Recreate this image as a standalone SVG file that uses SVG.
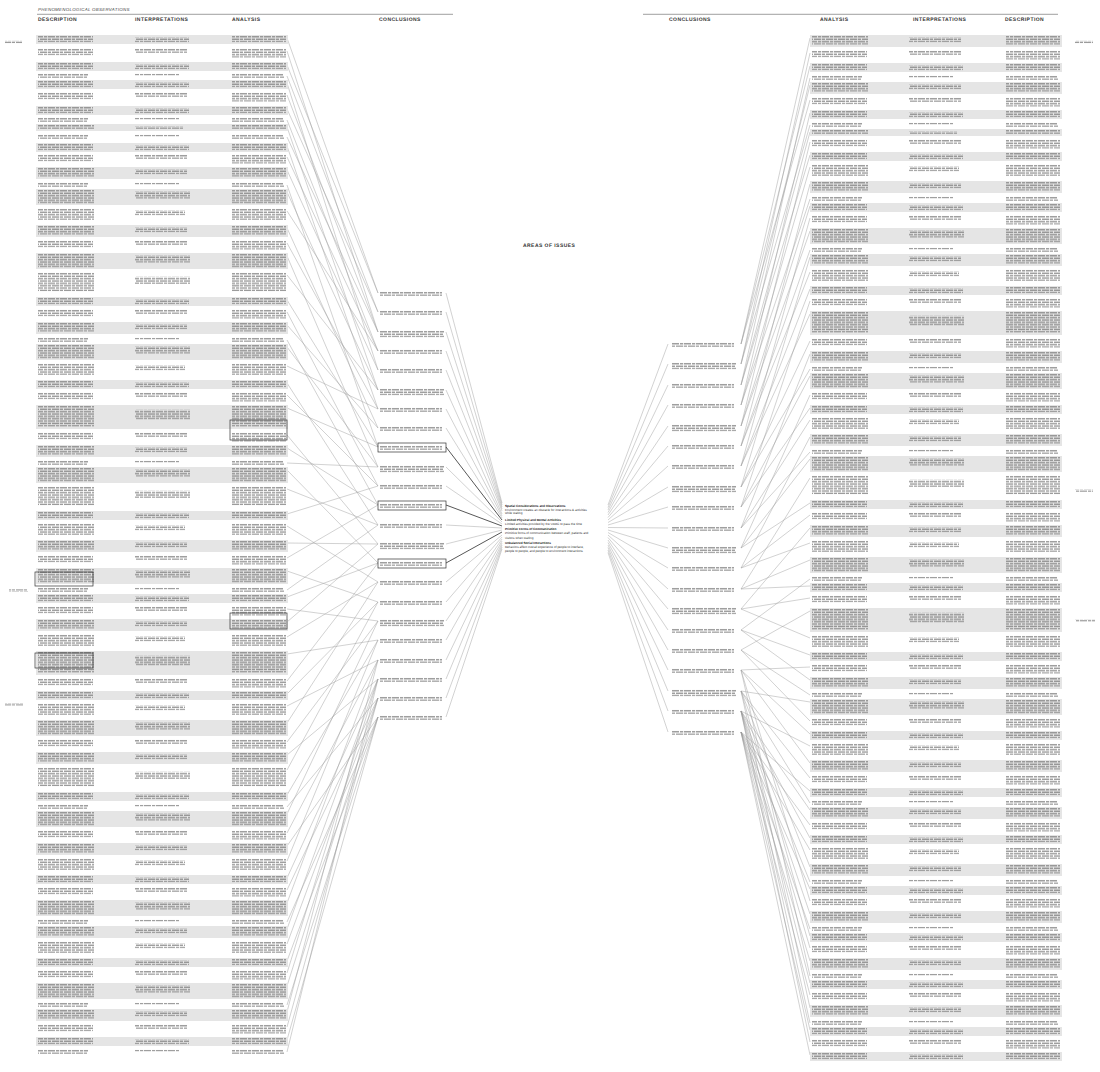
<svg xmlns="http://www.w3.org/2000/svg" xmlns:xlink="http://www.w3.org/1999/xlink" width="1100" height="1072" viewBox="0 0 1100 1072">
<style>
.b{fill:#e5e5e5}
.t{fill:url(#tp)}
.h{font-family:"Liberation Sans",Arial,sans-serif;font-weight:bold;font-size:5px;letter-spacing:0.45px;fill:#333;text-rendering:geometricPrecision}
.ph{font-family:"Liberation Sans",Arial,sans-serif;font-style:italic;font-size:4.4px;letter-spacing:0.3px;fill:#444;text-rendering:geometricPrecision}
.rule{stroke:#888;stroke-width:0.8}
.ct{font-family:"Liberation Sans",Arial,sans-serif;font-size:3.1px;fill:#333;text-rendering:geometricPrecision}
.cb{font-weight:bold;fill:#111}
.cn{fill:none;stroke:#9a9a9a;stroke-width:0.45}
.cd{fill:none;stroke:#444;stroke-width:0.9}
.bx{fill:none;stroke:#333;stroke-width:0.7}
</style>
<defs>
<pattern id="tp" width="12" height="4.8" patternUnits="userSpaceOnUse">
<rect x="0" y="1.2" width="7" height="1.1" fill="#7c7c7c"/><rect x="8" y="1.2" width="3.2" height="1.1" fill="#7c7c7c"/>
<rect x="0" y="3.6" width="3" height="1.1" fill="#7c7c7c"/><rect x="4" y="3.6" width="7.2" height="1.1" fill="#7c7c7c"/>
</pattern>
<g id="g7"><rect class="b" width="252" height="7"/><rect class="t" x="2" width="56" height="4.8"/><rect class="t" x="99" y="2.4" width="48" height="2.4"/><rect class="t" x="196" width="54" height="4.8"/></g>
<g id="g9"><rect class="b" width="252" height="9"/><rect class="t" x="2" width="55" height="7.2"/><rect class="t" x="99" y="2.4" width="54" height="4.8"/><rect class="t" x="196" width="54" height="7.2"/></g>
<g id="g12"><rect class="b" width="252" height="12"/><rect class="t" x="2" width="56" height="9.6"/><rect class="t" x="99" y="2.4" width="52" height="4.8"/><rect class="t" x="196" width="54" height="9.6"/></g>
<g id="g16"><rect class="b" width="252" height="16"/><rect class="t" x="2" width="56" height="14.4"/><rect class="t" x="99" y="2.4" width="55" height="7.2"/><rect class="t" x="196" width="54" height="14.4"/></g>
<g id="g24"><rect class="b" width="252" height="24"/><rect class="t" x="2" width="56" height="21.6"/><rect class="t" x="99" y="4.8" width="55" height="9.6"/><rect class="t" x="196" width="54" height="21.6"/></g>
<g id="w5"><rect class="t" x="2" width="50" height="4.8"/><rect class="t" x="99" width="44" height="2.4"/><rect class="t" x="196" width="52" height="4.8"/></g>
<g id="w10"><rect class="t" x="2" width="55" height="7.2"/><rect class="t" x="99" width="52" height="4.8"/><rect class="t" x="196" width="54" height="9.6"/></g>
<g id="w14"><rect class="t" x="2" width="56" height="12"/><rect class="t" x="99" y="2.4" width="50" height="4.8"/><rect class="t" x="196" width="54" height="12"/></g>
<g id="w22"><rect class="t" x="2" width="56" height="19.2"/><rect class="t" x="99" y="4.8" width="55" height="7.2"/><rect class="t" x="196" width="54" height="19.2"/></g>
<g id="c2"><rect class="t" width="62" height="4.8"/></g>
<g id="c3"><rect class="t" width="64" height="7.2"/></g>
</defs>
<rect width="1100" height="1072" fill="#fff"/>

<g id="header-left">
<text class="ph" x="38" y="11">PHENOMENOLOGICAL OBSERVATIONS</text>
<line class="rule" x1="37" y1="14.3" x2="453" y2="14.3"/>
<text class="h" x="38" y="21">DESCRIPTION</text>
<text class="h" x="135" y="21">INTERPRETATIONS</text>
<text class="h" x="232" y="21">ANALYSIS</text>
<text class="h" x="379" y="21">CONCLUSIONS</text>
</g>
<g id="header-right">
<line class="rule" x1="643" y1="14.3" x2="1058" y2="14.3"/>
<text class="h" x="669" y="21">CONCLUSIONS</text>
<text class="h" x="820" y="21">ANALYSIS</text>
<text class="h" x="913" y="21">INTERPRETATIONS</text>
<text class="h" x="1005" y="21">DESCRIPTION</text>
</g>

<g id="connectors">
<path class="cn" d="M287 38L378 293M287 51L378 332M287 65L378 293M287 76L378 312M287 83L378 370M287 95L378 332M287 109L378 312M287 120L378 351M287 127L378 390M287 137L378 332M287 146L378 409M287 157L378 351M287 170L378 370M287 185L378 447M287 192L378 390M287 211L378 351M287 228L378 428M287 243L378 409M287 256L378 467M287 275L378 390M287 300L378 447M287 312L378 486M287 325L378 428M287 340L378 505M287 347L378 467M287 366L378 409M287 383L378 525M287 395L378 486M287 408L378 447M287 435L378 544M287 448L378 505M287 463L378 467M287 470L378 563M287 489L378 525M287 514L378 486M287 526L378 582M287 543L378 544M287 558L378 505M287 571L378 602M287 590L378 525M287 597L378 563M287 609L378 621M287 622L378 544M287 637L378 582M287 654L378 640M287 681L378 563M287 694L378 602M287 706L378 660M287 723L378 582M287 742L378 621M287 755L378 679M287 770L378 602M287 795L378 640M287 807L378 698M287 814L378 621M287 833L378 660M287 846L378 717M287 861L378 640M287 878L378 679M287 890L378 698M287 903L378 660M287 922L378 717M287 929L378 679M287 944L378 698M287 961L378 717M287 973L378 679M287 986L378 698M287 1005L378 717M287 1012L378 660M287 1027L378 698M287 1040L378 717M287 1052L378 679"/>
<path class="cn" d="M446 293L502 503M446 312L502 505M446 332L502 507M446 351L502 509M446 370L502 511M446 390L502 514M446 409L502 516M446 428L502 518M446 467L502 522M446 486L502 524M446 525L502 528M446 544L502 530M446 582L502 535M446 602L502 537M446 621L502 539M446 640L502 541M446 660L502 543M446 679L502 545M446 698L502 547M446 717L502 549"/>
<path class="cd" d="M446 447L502 520M446 505L502 526M446 563L502 532"/>
<path class="cn" d="M810 38L741 344M810 53L741 364M810 66L741 344M810 78L741 385M810 85L741 364M810 100L741 344M810 113L741 405M810 125L741 364M810 132L741 385M810 142L741 426M810 155L741 385M810 167L741 405M810 184L741 446M810 199L741 405M810 206L741 426M810 218L741 466M810 231L741 426M810 250L741 446M810 257L741 487M810 272L741 446M810 289L741 466M810 301L741 507M810 314L741 466M810 341L741 487M810 354L741 528M810 369L741 487M810 376L741 507M810 395L741 548M810 408L741 507M810 420L741 528M810 437L741 568M810 452L741 528M810 459L741 548M810 478L741 589M810 503L741 548M810 515L741 568M810 528L741 609M810 543L741 568M810 560L741 589M810 579L741 630M810 586L741 589M810 598L741 609M810 611L741 650M810 638L741 609M810 655L741 630M810 667L741 670M810 680L741 630M810 695L741 650M810 702L741 691M810 721L741 650M810 734L741 670M810 746L741 711M810 763L741 670M810 778L741 691M810 791L741 732M810 803L741 691M810 810L741 711M810 825L741 732M810 838L741 711M810 850L741 732M810 867L741 691M810 882L741 711M810 889L741 732M810 901L741 670M810 914L741 711M810 929L741 732M810 936L741 691M810 948L741 711M810 961L741 732M810 976L741 670M810 983L741 711M810 995L741 732M810 1008L741 691M810 1023L741 711M810 1030L741 732M810 1042L741 711M810 1055L741 732"/>
<path class="cn" d="M668 344L608 505M668 364L608 507.5M668 385L608 510M668 405L608 512.5M668 426L608 515M668 446L608 517.5M668 466L608 520M668 487L608 522.5M668 507L608 525M668 528L608 527.5M668 548L608 530M668 568L608 532.5M668 589L608 535M668 609L608 537.5M668 630L608 540M668 650L608 542.5M668 670L608 545M668 691L608 547.5M668 711L608 550M668 732L608 552.5"/>
</g>

<g id="left-rows">
<use href="#g9" x="36" y="35"/><use href="#w10" x="36" y="48"/><use href="#g9" x="36" y="62"/><use href="#w5" x="36" y="73"/><use href="#g9" x="36" y="80"/><use href="#w10" x="36" y="92"/><use href="#g9" x="36" y="106"/><use href="#w5" x="36" y="117"/><use href="#g7" x="36" y="124"/><use href="#w5" x="36" y="134"/><use href="#g9" x="36" y="143"/><use href="#w10" x="36" y="154"/><use href="#g12" x="36" y="167"/><use href="#w5" x="36" y="182"/><use href="#g16" x="36" y="189"/><use href="#w14" x="36" y="208"/><use href="#g12" x="36" y="225"/><use href="#w10" x="36" y="240"/><use href="#g16" x="36" y="253"/><use href="#w22" x="36" y="272"/><use href="#g9" x="36" y="297"/><use href="#w10" x="36" y="309"/><use href="#g12" x="36" y="322"/><use href="#w5" x="36" y="337"/><use href="#g16" x="36" y="344"/><use href="#w14" x="36" y="363"/><use href="#g9" x="36" y="380"/><use href="#w10" x="36" y="392"/><use href="#g24" x="36" y="405"/><use href="#w10" x="36" y="432"/><use href="#g12" x="36" y="445"/><use href="#w5" x="36" y="460"/><use href="#g16" x="36" y="467"/><use href="#w22" x="36" y="486"/><use href="#g9" x="36" y="511"/><use href="#w14" x="36" y="523"/><use href="#g12" x="36" y="540"/><use href="#w10" x="36" y="555"/><use href="#g16" x="36" y="568"/><use href="#w5" x="36" y="587"/><use href="#g9" x="36" y="594"/><use href="#w10" x="36" y="606"/><use href="#g12" x="36" y="619"/><use href="#w14" x="36" y="634"/><use href="#g24" x="36" y="651"/><use href="#w10" x="36" y="678"/><use href="#g9" x="36" y="691"/><use href="#w14" x="36" y="703"/><use href="#g16" x="36" y="720"/><use href="#w10" x="36" y="739"/><use href="#g12" x="36" y="752"/><use href="#w22" x="36" y="767"/><use href="#g9" x="36" y="792"/><use href="#w5" x="36" y="804"/><use href="#g16" x="36" y="811"/><use href="#w10" x="36" y="830"/><use href="#g12" x="36" y="843"/><use href="#w14" x="36" y="858"/><use href="#g9" x="36" y="875"/><use href="#w10" x="36" y="887"/><use href="#g16" x="36" y="900"/><use href="#w5" x="36" y="919"/><use href="#g12" x="36" y="926"/><use href="#w14" x="36" y="941"/><use href="#g9" x="36" y="958"/><use href="#w10" x="36" y="970"/><use href="#g16" x="36" y="983"/><use href="#w5" x="36" y="1002"/><use href="#g12" x="36" y="1009"/><use href="#w10" x="36" y="1024"/><use href="#g9" x="36" y="1037"/><use href="#w5" x="36" y="1049"/>
<rect class="bx" x="35" y="572" width="58" height="14"/><rect class="bx" x="35" y="653" width="58" height="15"/><rect class="bx" x="230" y="420" width="57" height="20"/><rect class="bx" x="230" y="613" width="57" height="16"/>
</g>

<g id="right-rows">
<use href="#g12" x="810" y="35"/><use href="#w10" x="810" y="50"/><use href="#g9" x="810" y="63"/><use href="#w5" x="810" y="75"/><use href="#g12" x="810" y="82"/><use href="#w10" x="810" y="97"/><use href="#g9" x="810" y="110"/><use href="#w5" x="810" y="122"/><use href="#g7" x="810" y="129"/><use href="#w10" x="810" y="139"/><use href="#g9" x="810" y="152"/><use href="#w14" x="810" y="164"/><use href="#g12" x="810" y="181"/><use href="#w5" x="810" y="196"/><use href="#g9" x="810" y="203"/><use href="#w10" x="810" y="215"/><use href="#g16" x="810" y="228"/><use href="#w5" x="810" y="247"/><use href="#g12" x="810" y="254"/><use href="#w14" x="810" y="269"/><use href="#g9" x="810" y="286"/><use href="#w10" x="810" y="298"/><use href="#g24" x="810" y="311"/><use href="#w10" x="810" y="338"/><use href="#g12" x="810" y="351"/><use href="#w5" x="810" y="366"/><use href="#g16" x="810" y="373"/><use href="#w10" x="810" y="392"/><use href="#g9" x="810" y="405"/><use href="#w14" x="810" y="417"/><use href="#g12" x="810" y="434"/><use href="#w5" x="810" y="449"/><use href="#g16" x="810" y="456"/><use href="#w22" x="810" y="475"/><use href="#g9" x="810" y="500"/><use href="#w10" x="810" y="512"/><use href="#g12" x="810" y="525"/><use href="#w14" x="810" y="540"/><use href="#g16" x="810" y="557"/><use href="#w5" x="810" y="576"/><use href="#g9" x="810" y="583"/><use href="#w10" x="810" y="595"/><use href="#g24" x="810" y="608"/><use href="#w14" x="810" y="635"/><use href="#g9" x="810" y="652"/><use href="#w10" x="810" y="664"/><use href="#g12" x="810" y="677"/><use href="#w5" x="810" y="692"/><use href="#g16" x="810" y="699"/><use href="#w10" x="810" y="718"/><use href="#g9" x="810" y="731"/><use href="#w14" x="810" y="743"/><use href="#g12" x="810" y="760"/><use href="#w10" x="810" y="775"/><use href="#g9" x="810" y="788"/><use href="#w5" x="810" y="800"/><use href="#g12" x="810" y="807"/><use href="#w10" x="810" y="822"/><use href="#g9" x="810" y="835"/><use href="#w14" x="810" y="847"/><use href="#g12" x="810" y="864"/><use href="#w5" x="810" y="879"/><use href="#g9" x="810" y="886"/><use href="#w10" x="810" y="898"/><use href="#g12" x="810" y="911"/><use href="#w5" x="810" y="926"/><use href="#g9" x="810" y="933"/><use href="#w10" x="810" y="945"/><use href="#g12" x="810" y="958"/><use href="#w5" x="810" y="973"/><use href="#g9" x="810" y="980"/><use href="#w10" x="810" y="992"/><use href="#g12" x="810" y="1005"/><use href="#w5" x="810" y="1020"/><use href="#g9" x="810" y="1027"/><use href="#w10" x="810" y="1039"/><use href="#g9" x="810" y="1052"/>
</g>

<g id="side-labels">
<rect class="t" x="5" y="40.8" width="17" height="2.4"/><rect class="t" x="9" y="589.2" width="19" height="2.4"/><rect class="t" x="5" y="703.2" width="18" height="2.4"/>
<rect class="t" x="1075" y="40.8" width="18" height="2.4"/><rect class="t" x="1075" y="489.6" width="18" height="2.4"/><rect class="t" x="1075" y="619.2" width="20" height="2.4"/>
</g>

<g id="left-conclusions">
<use href="#c2" x="380" y="291"/><use href="#c2" x="380" y="310"/><use href="#c3" x="380" y="330"/><use href="#c2" x="380" y="349"/><use href="#c2" x="380" y="368"/><use href="#c3" x="380" y="388"/><use href="#c2" x="380" y="407"/><use href="#c2" x="380" y="426"/><use href="#c2" x="380" y="445"/><use href="#c3" x="380" y="465"/><use href="#c2" x="380" y="484"/><use href="#c2" x="380" y="503"/><use href="#c2" x="380" y="523"/><use href="#c3" x="380" y="542"/><use href="#c2" x="380" y="561"/><use href="#c2" x="380" y="580"/><use href="#c2" x="380" y="600"/><use href="#c3" x="380" y="619"/><use href="#c2" x="380" y="638"/><use href="#c2" x="380" y="658"/><use href="#c2" x="380" y="677"/><use href="#c2" x="380" y="696"/><use href="#c2" x="380" y="715"/>
<rect class="bx" x="378" y="443" width="68" height="9"/><rect class="bx" x="378" y="501" width="68" height="9"/><rect class="bx" x="378" y="559" width="68" height="9"/>
</g>

<g id="right-conclusions">
<use href="#c2" x="672" y="342"/><use href="#c3" x="672" y="362"/><use href="#c2" x="672" y="383"/><use href="#c2" x="672" y="403"/><use href="#c3" x="672" y="424"/><use href="#c2" x="672" y="444"/><use href="#c2" x="672" y="464"/><use href="#c3" x="672" y="485"/><use href="#c2" x="672" y="505"/><use href="#c2" x="672" y="526"/><use href="#c3" x="672" y="546"/><use href="#c2" x="672" y="566"/><use href="#c2" x="672" y="587"/><use href="#c3" x="672" y="607"/><use href="#c2" x="672" y="628"/><use href="#c2" x="672" y="648"/><use href="#c2" x="672" y="668"/><use href="#c3" x="672" y="689"/><use href="#c2" x="672" y="709"/><use href="#c2" x="672" y="730"/>
</g>

<g id="areas-of-issues">
<text class="h" x="523" y="247">AREAS OF ISSUES</text>
<text class="ct"><tspan class="cb" x="505" y="507">Spatial Considerations and Observations</tspan><tspan x="505" y="510.5">Environment creates an obstacle for interactions &amp; activities</tspan><tspan x="505" y="513.5">while waiting</tspan><tspan class="cb" x="505" y="520.5">Limited Physical and Mental Activities</tspan><tspan x="505" y="525">Limited activities provided by the VAMC to pass the time</tspan><tspan class="cb" x="505" y="529.5">Primitive Forms of Communication</tspan><tspan x="505" y="534">Primitive forms of communication between staff, patients and</tspan><tspan x="505" y="538.5">visitors when waiting</tspan><tspan class="cb" x="505" y="543.5">Unbalanced Social Interactions</tspan><tspan x="505" y="547.5">Behaviors affect overall experience of people to interface,</tspan><tspan x="505" y="552">people to people, and people to environment interactions</tspan></text>
</g>
</svg>
